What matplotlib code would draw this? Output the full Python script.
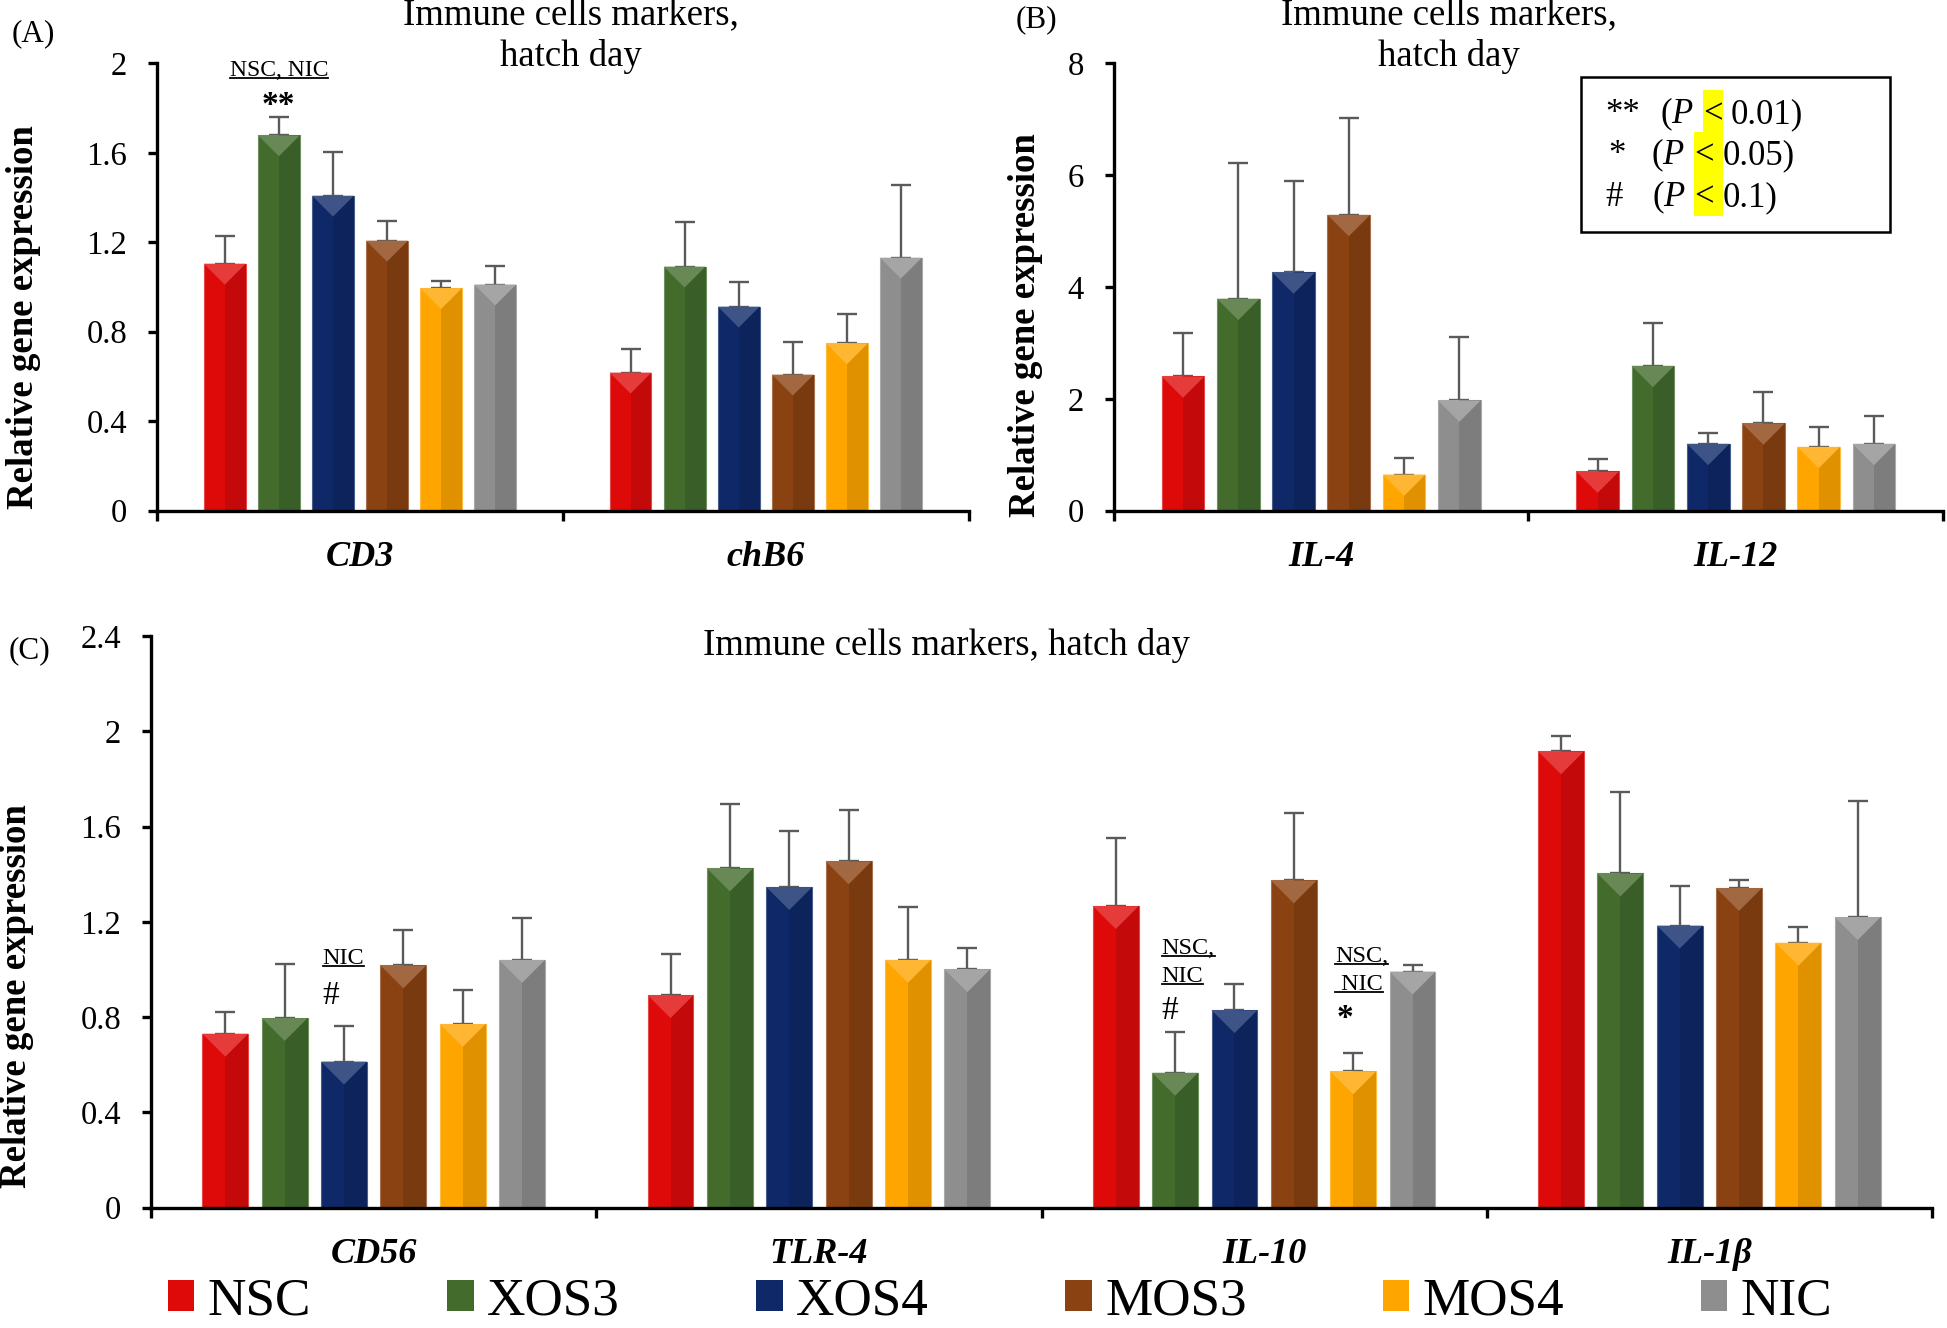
import matplotlib
matplotlib.use('Agg')
import matplotlib.pyplot as plt
import numpy as np
from matplotlib.patches import Patch, Rectangle, Polygon
from matplotlib.lines import Line2D
import matplotlib.colors as mcolors

plt.rcParams['font.family'] = ['Liberation Serif', 'DejaVu Serif']
plt.rcParams['mathtext.fontset'] = 'custom'
plt.rcParams['mathtext.rm'] = 'Liberation Serif'
plt.rcParams['mathtext.it'] = 'Liberation Serif:italic'
plt.rcParams['mathtext.bf'] = 'Liberation Serif:bold'

# ---------------- data ----------------
treatments = ['NSC', 'XOS3', 'XOS4', 'MOS3', 'MOS4', 'NIC']
colors = ['#DE0A0A', '#426B2C', '#0E2868', '#8A4212', '#FFA500', '#8E8E8E']

genes_a = ['CD3', 'chB6']
cd3_mean = [1.104, 1.678, 1.408, 1.207, 0.995, 1.011]
cd3_err = [0.122, 0.083, 0.195, 0.088, 0.032, 0.082]
chb6_mean = [0.617, 1.091, 0.912, 0.608, 0.748, 1.131]
chb6_err = [0.107, 0.199, 0.112, 0.146, 0.133, 0.325]

genes_b = ['IL-4', 'IL-12']
il4_mean = [2.40, 3.79, 4.26, 5.29, 0.645, 1.97]
il4_err = [0.78, 2.43, 1.64, 1.74, 0.30, 1.13]
il12_mean = [0.70, 2.59, 1.195, 1.56, 1.14, 1.195]
il12_err = [0.23, 0.76, 0.20, 0.57, 0.35, 0.49]

genes_c = ['CD56', 'TLR-4', 'IL-10', 'IL-1β']
cd56_mean = [0.730, 0.796, 0.613, 1.017, 0.771, 1.040]
cd56_err = [0.090, 0.226, 0.150, 0.148, 0.142, 0.174]
tlr4_mean = [0.892, 1.424, 1.346, 1.454, 1.040, 1.001]
tlr4_err = [0.171, 0.272, 0.236, 0.216, 0.224, 0.088]
il10_mean = [1.266, 0.566, 0.829, 1.374, 0.572, 0.991]
il10_err = [0.287, 0.172, 0.111, 0.281, 0.078, 0.029]
il1b_mean = [1.916, 1.403, 1.184, 1.342, 1.112, 1.220]
il1b_err = [0.063, 0.343, 0.168, 0.032, 0.065, 0.487]

yticks_a = [0, 0.4, 0.8, 1.2, 1.6, 2.0]
yticks_b = [0, 2, 4, 6, 8]
yticks_c = [0, 0.4, 0.8, 1.2, 1.6, 2.0, 2.4]

title_ab = 'Immune cells markers,\nhatch day'
title_c = 'Immune cells markers, hatch day'
ylabel = 'Relative gene expression'

# ---------------- figure ----------------
W, H = 19.47, 13.28
fig = plt.figure(figsize=(W, H), dpi=100)

ax_a = fig.add_axes([0.0807, 0.6155, 0.4168, 0.3368])
ax_b = fig.add_axes([0.5721, 0.6155, 0.4259, 0.3368])
ax_c = fig.add_axes([0.0776, 0.0907, 0.9147, 0.4303])

PITCH = 0.1333
BW = 0.103
SPINE_LW = 2.4


def shade(c, f):
    r, g, b = mcolors.to_rgb(c)
    if f < 1:
        return (r * f, g * f, b * f)
    f2 = f - 1
    return (r + (1 - r) * f2, g + (1 - g) * f2, b + (1 - b) * f2)


def draw_panel(ax, genes, means, errs, yticks, ytick_labels):
    ng = len(genes)
    ax.set_xlim(-0.5, ng - 0.5)
    ax.set_ylim(0, yticks[-1])
    fig.canvas.draw()
    bbox = ax.get_window_extent()
    px_x = bbox.width / ng
    px_y = bbox.height / yticks[-1]
    for gi in range(ng):
        for ti in range(6):
            x = gi + (ti - 2.5) * PITCH
            m = means[gi][ti]
            e = errs[gi][ti]
            c = colors[ti]
            ax.errorbar([x], [m], yerr=[[0], [e]], fmt='none', ecolor='#5a5a5a',
                        elinewidth=1.7, capsize=7.5, capthick=1.7, zorder=1)
            ax.bar([x], [m], width=BW, color=c, edgecolor=shade(c, 1.25),
                   linewidth=0.8, zorder=2)
            ax.bar([x + BW / 4], [m], width=BW / 2, color=shade(c, 0.88),
                   edgecolor='none', zorder=2.1)
            depth = (BW / 2) * px_x / px_y
            depth = min(depth, m)
            tri = Polygon([(x - BW / 2, m), (x + BW / 2, m), (x, m - depth)],
                          closed=True, facecolor=shade(c, 1.2), edgecolor='none',
                          zorder=2.2)
            ax.add_patch(tri)
    for s in ['top', 'right']:
        ax.spines[s].set_visible(False)
    for s in ['left', 'bottom']:
        ax.spines[s].set_linewidth(SPINE_LW)
        ax.spines[s].set_color('black')
    ax.set_yticks(yticks)
    ax.set_yticklabels(ytick_labels, fontsize=23.5)
    ax.tick_params(axis='y', direction='out', length=6.5, width=2.4, pad=15)
    ax.set_xticks(np.arange(-0.5, ng, 1.0))
    ax.set_xticklabels([''] * (ng + 1))
    ax.tick_params(axis='x', which='major', direction='out', length=7.5, width=2.4)
    ax.set_xticks(np.arange(ng), minor=True)
    ax.set_xticklabels(genes, minor=True, fontsize=26, fontweight='bold',
                       fontstyle='italic')
    ax.tick_params(axis='x', which='minor', length=0, pad=22)
    ax.set_facecolor('none')


draw_panel(ax_a, genes_a, [cd3_mean, chb6_mean], [cd3_err, chb6_err],
           yticks_a, ['0', '0.4', '0.8', '1.2', '1.6', '2'])
draw_panel(ax_b, genes_b, [il4_mean, il12_mean], [il4_err, il12_err],
           yticks_b, ['0', '2', '4', '6', '8'])
draw_panel(ax_c, genes_c, [cd56_mean, tlr4_mean, il10_mean, il1b_mean],
           [cd56_err, tlr4_err, il10_err, il1b_err],
           yticks_c, ['0', '0.4', '0.8', '1.2', '1.6', '2', '2.4'])

# y labels
for ax, xc, yc in [(ax_a, 19, 255), (ax_b, 826, 262), (ax_c, 13, 802)]:
    fig.text(xc / 1568, 1 - yc / 1069, ylabel, rotation=90, ha='center', va='center',
             fontsize=26.5, fontweight='bold')

# titles
fig.text(460 / 1568, 1 - 29 / 1069, title_ab, ha='center', va='center',
         fontsize=26.5, linespacing=1.22)
fig.text(1167 / 1568, 1 - 29 / 1069, title_ab, ha='center', va='center',
         fontsize=26.5, linespacing=1.22)
fig.text(762 / 1568, 1 - 520 / 1069, title_c, ha='center', va='center',
         fontsize=26.5)

# panel labels
fig.text(27 / 1568, 1 - 27 / 1069, '(A)', ha='center', va='center', fontsize=22.5)
fig.text(835 / 1568, 1 - 16 / 1069, '(B)', ha='center', va='center', fontsize=22.5)
fig.text(24 / 1568, 1 - 524 / 1069, '(C)', ha='center', va='center', fontsize=22.5)

# significance annotations
fig.canvas.draw()
underlines = []


def ul_text(ax, x, y, s, ha='center', size=17):
    t = ax.text(x, y, s, ha=ha, va='baseline', fontsize=size, zorder=5)
    underlines.append((ax, t, x, y))
    return t


ul_text(ax_a, -0.2, 1.944, 'NSC, NIC')
ax_a.text(-0.2, 1.775, '**', ha='center', va='baseline', fontsize=24, fontweight='bold')

ul_text(ax_c, -0.115, 1.023, 'NIC', ha='left', size=17.5)
ax_c.text(-0.115, 0.856, '#', ha='left', va='baseline', fontsize=24)

ul_text(ax_c, 1.770, 1.064, 'NSC,', ha='left', size=17.5)
ul_text(ax_c, 1.770, 0.946, 'NIC', ha='left', size=17.5)
ax_c.text(1.770, 0.790, '#', ha='left', va='baseline', fontsize=24)

ul_text(ax_c, 2.159, 1.030, 'NSC,', ha='left', size=17.5)
ul_text(ax_c, 2.159, 0.913, ' NIC', ha='left', size=17.5)
ax_c.text(2.162, 0.758, '*', ha='left', va='baseline', fontsize=24, fontweight='bold')

fig.canvas.draw()
renderer = fig.canvas.get_renderer()
for ax, t, x, y in underlines:
    bb = t.get_window_extent(renderer)
    ypx = ax.transData.transform((x, y))[1] - 2
    line = Line2D([bb.x0, bb.x1], [ypx, ypx], transform=None, color='black', lw=1.3)
    fig.add_artist(line)

# significance key box in panel B
ax_b.add_patch(Rectangle((0.5629, 0.6222), 0.9356 - 0.5629, 0.9694 - 0.6222,
                         transform=ax_b.transAxes, facecolor='white', edgecolor='black',
                         lw=1.8, zorder=6))
ax_b.add_patch(Rectangle((0.7105, 0.8461), 0.7346 - 0.7105, 0.9403 - 0.8461,
                         transform=ax_b.transAxes, facecolor='#FFFF00', edgecolor='none',
                         zorder=7))
ax_b.add_patch(Rectangle((0.6991, 0.6583), 0.7346 - 0.6991, 0.8461 - 0.6583,
                         transform=ax_b.transAxes, facecolor='#FFFF00', edgecolor='none',
                         zorder=7))
key_syms = ['**', '*', '#']
key_vals = ['0.01)', '0.05)', '0.1)']
key_y = [0.8667, 0.775, 0.681]
key_sym_x = [0.593, 0.596, 0.593]
key_par_x = [0.659, 0.648, 0.649]
key_lt_x = [0.7105, 0.7000, 0.7000]
key_val_x = [0.744, 0.734, 0.734]
for s, v, y, xs, xp, xl, xv in zip(key_syms, key_vals, key_y, key_sym_x, key_par_x,
                                   key_lt_x, key_val_x):
    kw = dict(transform=ax_b.transAxes, va='baseline', ha='left', fontsize=25, zorder=8)
    ax_b.text(xs, y, s, **kw)
    ax_b.text(xp, y, r'($\mathit{P}$', **kw)
    ax_b.text(xl, y, '<', **kw)
    ax_b.text(xv, y, v, **kw)

# bottom legend
handles = [Patch(facecolor=c, edgecolor='none') for c in colors]
fig.legend(handles, treatments, ncol=6, loc='lower left', bbox_to_anchor=(0.0861, 0.002),
           frameon=False, fontsize=38.3, handlelength=0.5, handleheight=0.5,
           handletextpad=0.25, columnspacing=2.56, borderpad=0, borderaxespad=0)

fig.savefig('out.png', dpi=100)
